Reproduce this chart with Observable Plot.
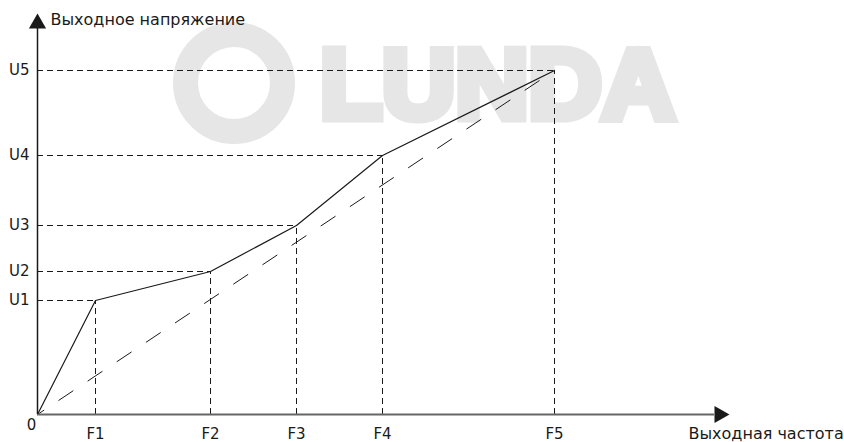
<!DOCTYPE html>
<html>
<head>
<meta charset="utf-8">
<script src="https://cdn.jsdelivr.net/npm/d3@7"></script>
<script src="https://cdn.jsdelivr.net/npm/@observablehq/plot@0.6"></script>
<style>
  html, body { margin: 0; padding: 0; background: #fff; }
</style>
</head>
<body>
<div id="chart"></div>
<script>
// ---- data ----
const fLabels = ["F1", "F2", "F3", "F4", "F5"];
const fValues = [58, 173, 259, 345, 517];
const uLabels = ["U1", "U2", "U3", "U4", "U5"];
const uValues = [114, 143, 189, 259, 344];
const originLabel = "0";
const yTitle = "Выходное напряжение";
const xTitle = "Выходная частота";
const watermark = "LUNDA";

// ---- derived tables ----
const vertices = fValues.map((f, i) => ({f, u: uValues[i]}));
const curve = [{f: 0, u: 0}, ...vertices];
const last = vertices[vertices.length - 1];
const diagonal = [{f: 0, u: 0}, last];

const xAxisEnd = 677;   // end of x axis line (before arrowhead)
const yAxisEnd = 386;   // end of y axis line (before arrowhead)
const ink = "#1a1a1a";
const font = "'DejaVu Sans', 'Liberation Sans', Arial, sans-serif";

const chart = Plot.plot({
  width: 844,
  height: 442,
  marginLeft: 37,
  marginRight: 0,
  marginTop: 0,
  marginBottom: 28,
  x: {domain: [0, 807], axis: null},
  y: {domain: [0, 414], axis: null},
  style: {fontFamily: font, fontSize: "15px", color: ink, background: "#fff"},
  marks: [
    // guide lines
    Plot.ruleY(vertices, {y: "u", x1: 0, x2: "f", stroke: ink, strokeWidth: 1, strokeDasharray: "6,4"}),
    Plot.ruleX(vertices, {x: "f", y1: 0, y2: "u", stroke: ink, strokeWidth: 1, strokeDasharray: "6,4"}),
    // linear V/f reference
    Plot.line(diagonal, {x: "f", y: "u", stroke: ink, strokeWidth: 1, strokeDasharray: "17,18", strokeDashoffset: 9.4}),
    // multi-point V/f curve
    Plot.line(curve, {x: "f", y: "u", stroke: ink, strokeWidth: 1.2}),
    // axes lines
    Plot.ruleY([0], {x1: 0, x2: xAxisEnd, stroke: "#666", strokeWidth: 2}),
    Plot.ruleX([0], {y1: 0, y2: yAxisEnd, stroke: ink, strokeWidth: 1.5}),
    // arrowheads
    Plot.dot([{f: xAxisEnd + 5, u: 0}], {x: "f", y: "u", symbol: "triangle", r: 6.4, fill: ink, stroke: null, rotate: 90}),
    Plot.dot([{f: 0, u: yAxisEnd + 5}], {x: "f", y: "u", symbol: "triangle", r: 6.4, fill: ink, stroke: null}),
    // tick labels
    Plot.axisX(fValues, {tickSize: 0, tickPadding: 14, tickFormat: d => fLabels[fValues.indexOf(d)], label: null, fontSize: 15}),
    Plot.axisY(uValues, {tickSize: 0, tickPadding: 8, tickFormat: d => uLabels[uValues.indexOf(d)], label: null, fontSize: 15}),
    Plot.text([originLabel], {x: 0, y: 0, text: d => d, dx: -6, dy: 11, fontSize: 15}),
    // axis titles
    Plot.text([yTitle], {x: 0, y: yAxisEnd + 9, text: d => d, dx: 13, textAnchor: "start", fontSize: 16}),
    Plot.text([xTitle], {x: 651, y: 0, text: d => d, dy: 19, textAnchor: "start", fontSize: 16})
  ]
});

document.getElementById("chart").appendChild(chart);

// light-grey watermark behind the drawing
const wmColor = "#e6e6e6";
const svg = d3.select(chart);
const wm = svg.insert("g", ":first-child");
wm.append("circle")
  .attr("cx", 234).attr("cy", 83).attr("r", 48.5)
  .attr("fill", "none").attr("stroke", wmColor).attr("stroke-width", 25);
wm.append("text")
  .attr("x", 320).attr("y", 118)
  .attr("text-anchor", "start")
  .attr("font-family", "'Liberation Sans', Arial, sans-serif")
  .attr("font-weight", "bold").attr("font-size", 98)
  .attr("fill", wmColor).attr("stroke", wmColor).attr("stroke-width", 9)
  .attr("stroke-linejoin", "miter")
  .attr("textLength", 355).attr("lengthAdjust", "spacingAndGlyphs")
  .text(watermark);
</script>
</body>
</html>
